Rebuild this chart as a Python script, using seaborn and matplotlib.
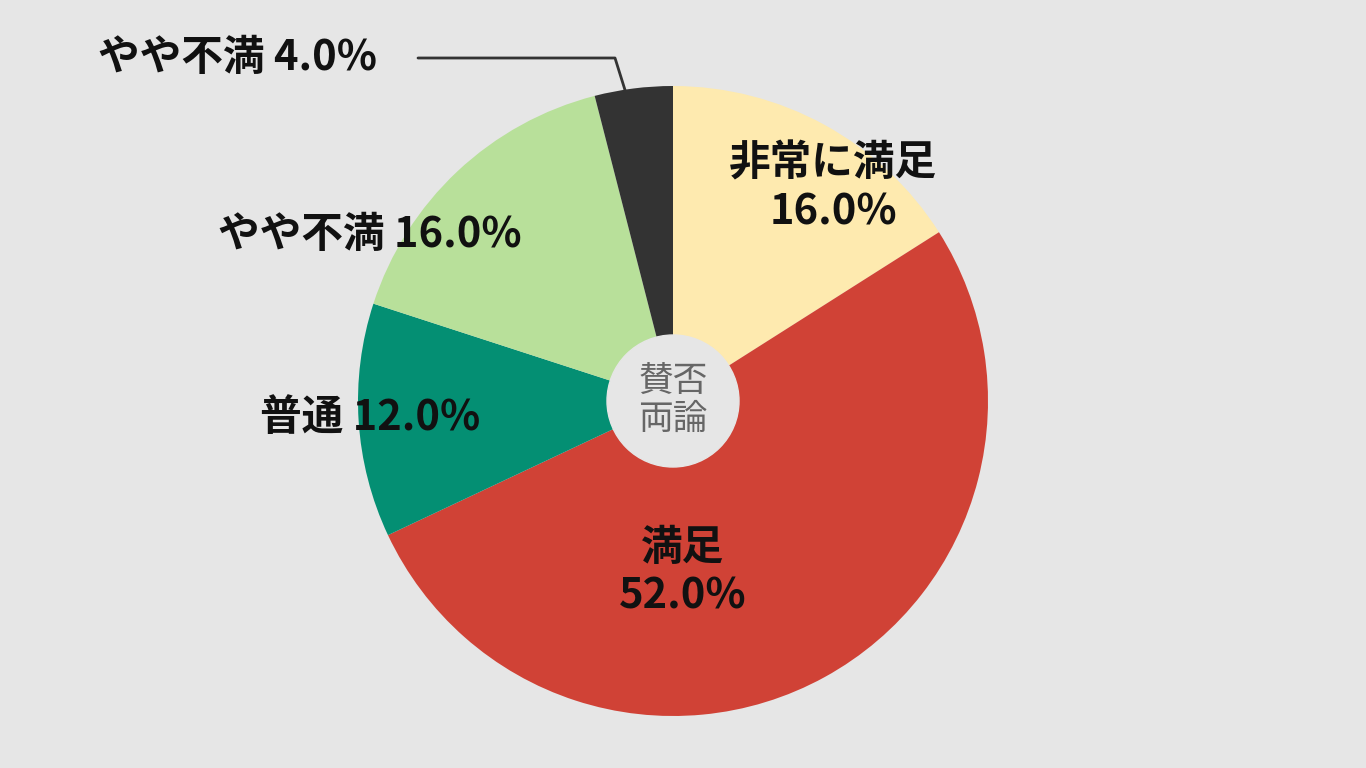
import matplotlib
matplotlib.use("Agg")
import matplotlib.pyplot as plt
import seaborn as sns

sns.set_theme(style="white")
plt.rcParams['font.family'] = ['Noto Sans CJK JP', 'DejaVu Sans']

labels = ['非常に満足', '満足', '普通', 'やや不満', 'やや不満']
values = [16.0, 52.0, 12.0, 16.0, 4.0]
colors = ['#FEEAAF', '#D04236', '#048F73', '#B8E09A', '#333333']
center_text = '賛否\n両論'

bg = '#E6E6E6'
fig = plt.figure(figsize=(13.66, 7.68), dpi=100, facecolor=bg)
ax = fig.add_axes([0, 0, 1, 1])
ax.set_facecolor(bg)
ax.set_xlim(0, 1366)
ax.set_ylim(0, 768)
ax.set_aspect('equal')
ax.axis('off')

cx, cy, r = 673, 768 - 401, 315
ax.pie(values, colors=colors, startangle=90, counterclock=False,
       center=(cx, cy), radius=r, wedgeprops=dict(linewidth=0), frame=True)
ax.set_xlim(0, 1366)
ax.set_ylim(0, 768)
ax.axis('off')

ax.add_patch(plt.Circle((cx, cy), 66, color=bg, zorder=5))
ax.text(cx, cy, center_text, ha='center', va='center', fontsize=25,
        color='#666666', linespacing=1.05, zorder=6)

fs = 30
txt = dict(ha='center', va='center', fontsize=fs, color='#111111', fontweight='bold')
ax.text(833, 768 - 188, f'{labels[0]}\n{values[0]:.1f}%', linespacing=1.2, **txt)
ax.text(683, 768 - 572, f'{labels[1]}\n{values[1]:.1f}%', linespacing=1.2, **txt)
ax.text(370, 768 - 418, f'{labels[2]} {values[2]:.1f}%', **txt)
ax.text(370, 768 - 235, f'{labels[3]} {values[3]:.1f}%', **txt)
ax.text(238, 768 - 58, f'{labels[4]} {values[4]:.1f}%', **txt)
ax.plot([418, 615, 625], [768 - 58, 768 - 58, 768 - 90], color='#333333', lw=2)

fig.savefig('out.png', dpi=100, facecolor=bg)
